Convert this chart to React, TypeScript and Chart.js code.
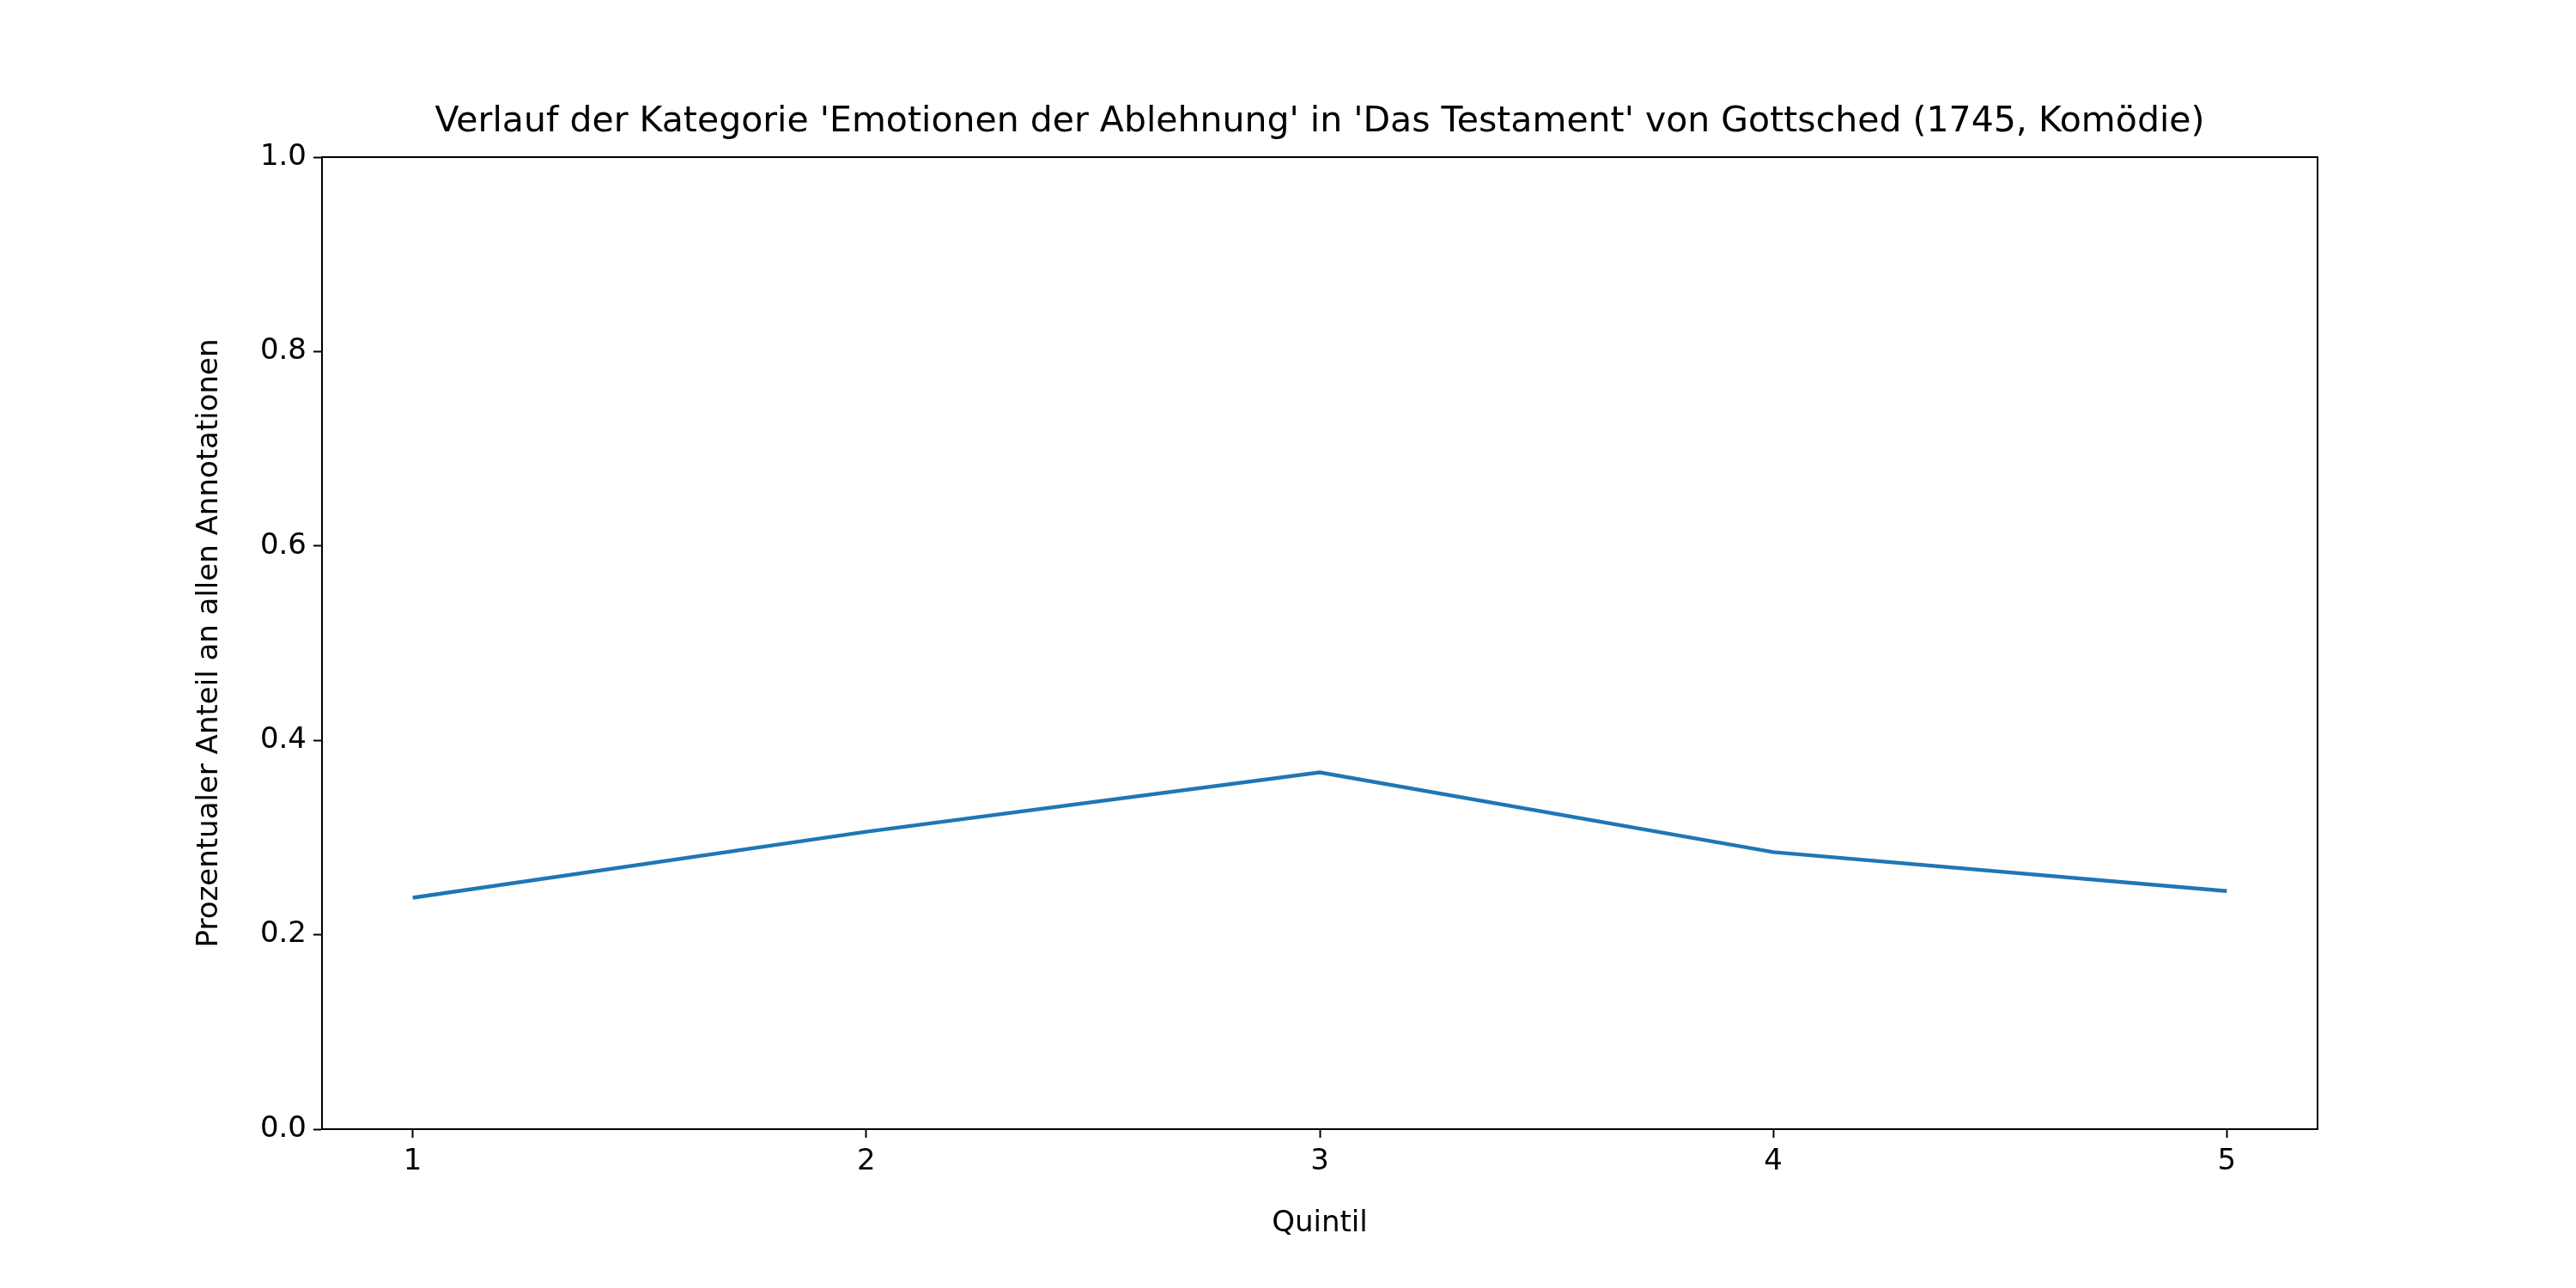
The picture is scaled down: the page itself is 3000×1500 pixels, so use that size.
import { useEffect, useRef } from "react";
import Chart from "chart.js/auto";

const quintiles = [1, 2, 3, 4, 5];
const shares = [0.238, 0.306, 0.367, 0.285, 0.245];
const yTicks = [0, 0.2, 0.4, 0.6, 0.8, 1.0];
const title = "Verlauf der Kategorie 'Emotionen der Ablehnung' in 'Das Testament' von Gottsched (1745, Komödie)";

const App = () => {
  const chartRef = useRef<HTMLCanvasElement | null>(null);

  useEffect(() => {
    const ctx = chartRef.current!.getContext("2d")!;
    const font = "'DejaVu Sans', sans-serif";
    const frame = {
      id: "frame",
      afterDraw(chart: any) {
        const { ctx, chartArea: a } = chart;
        ctx.save();
        ctx.strokeStyle = "#000";
        ctx.lineWidth = 2;
        ctx.strokeRect(a.left, a.top, a.right - a.left, a.bottom - a.top);
        ctx.fillStyle = "#000";
        ctx.font = "41px " + font;
        ctx.textAlign = "center";
        ctx.textBaseline = "bottom";
        ctx.fillText(title, (a.left + a.right) / 2, a.top - 20);
        ctx.restore();
      },
    };
    const chart = new Chart(ctx, {
      type: "scatter",
      data: {
        datasets: [{
          data: quintiles.map((q, i) => ({ x: q, y: shares[i] })),
          showLine: true,
          borderColor: "#1f77b4",
          borderWidth: 4.5,
          pointRadius: 0,
          tension: 0,
        }],
      },
      options: {
        animation: false,
        responsive: false,
        layout: { padding: { left: 220, top: 183, right: 301, bottom: 50 } },
        plugins: { legend: { display: false }, tooltip: { enabled: false } },
        scales: {
          x: {
            type: "linear", min: 0.8, max: 5.2,
            afterBuildTicks: (s: any) => { s.ticks = quintiles.map((v) => ({ value: v })); },
            afterFit: (s: any) => { s.height = 135; },
            grid: { drawOnChartArea: false, color: "#000", tickLength: 10, tickWidth: 2 },
            border: { color: "#000", width: 2 },
            ticks: { color: "#000", font: { family: font, size: 34 }, padding: 8 },
            title: { display: true, text: "Quintil", color: "#000", font: { family: font, size: 34 }, padding: { top: 10 } },
          },
          y: {
            min: 0, max: 1,
            afterBuildTicks: (s: any) => { s.ticks = yTicks.map((v) => ({ value: v })); },
            afterFit: (s: any) => { s.width = 155; },
            grid: { drawOnChartArea: false, color: "#000", tickLength: 10, tickWidth: 2 },
            border: { color: "#000", width: 2 },
            ticks: { color: "#000", font: { family: font, size: 34 }, padding: 8, callback: (v: any) => Number(v).toFixed(1) },
            title: { display: true, text: "Prozentualer Anteil an allen Annotationen", color: "#000", font: { family: font, size: 34 }, padding: { bottom: 10 } },
          },
        },
      },
      plugins: [frame],
    });
    return () => chart.destroy();
  }, []);

  return (
    <div style={{ position: "fixed", left: 0, top: 0, width: 3000, height: 1500, background: "#fff" }}>
      <canvas ref={chartRef} width={3000} height={1500} />
    </div>
  );
};

export default App;
